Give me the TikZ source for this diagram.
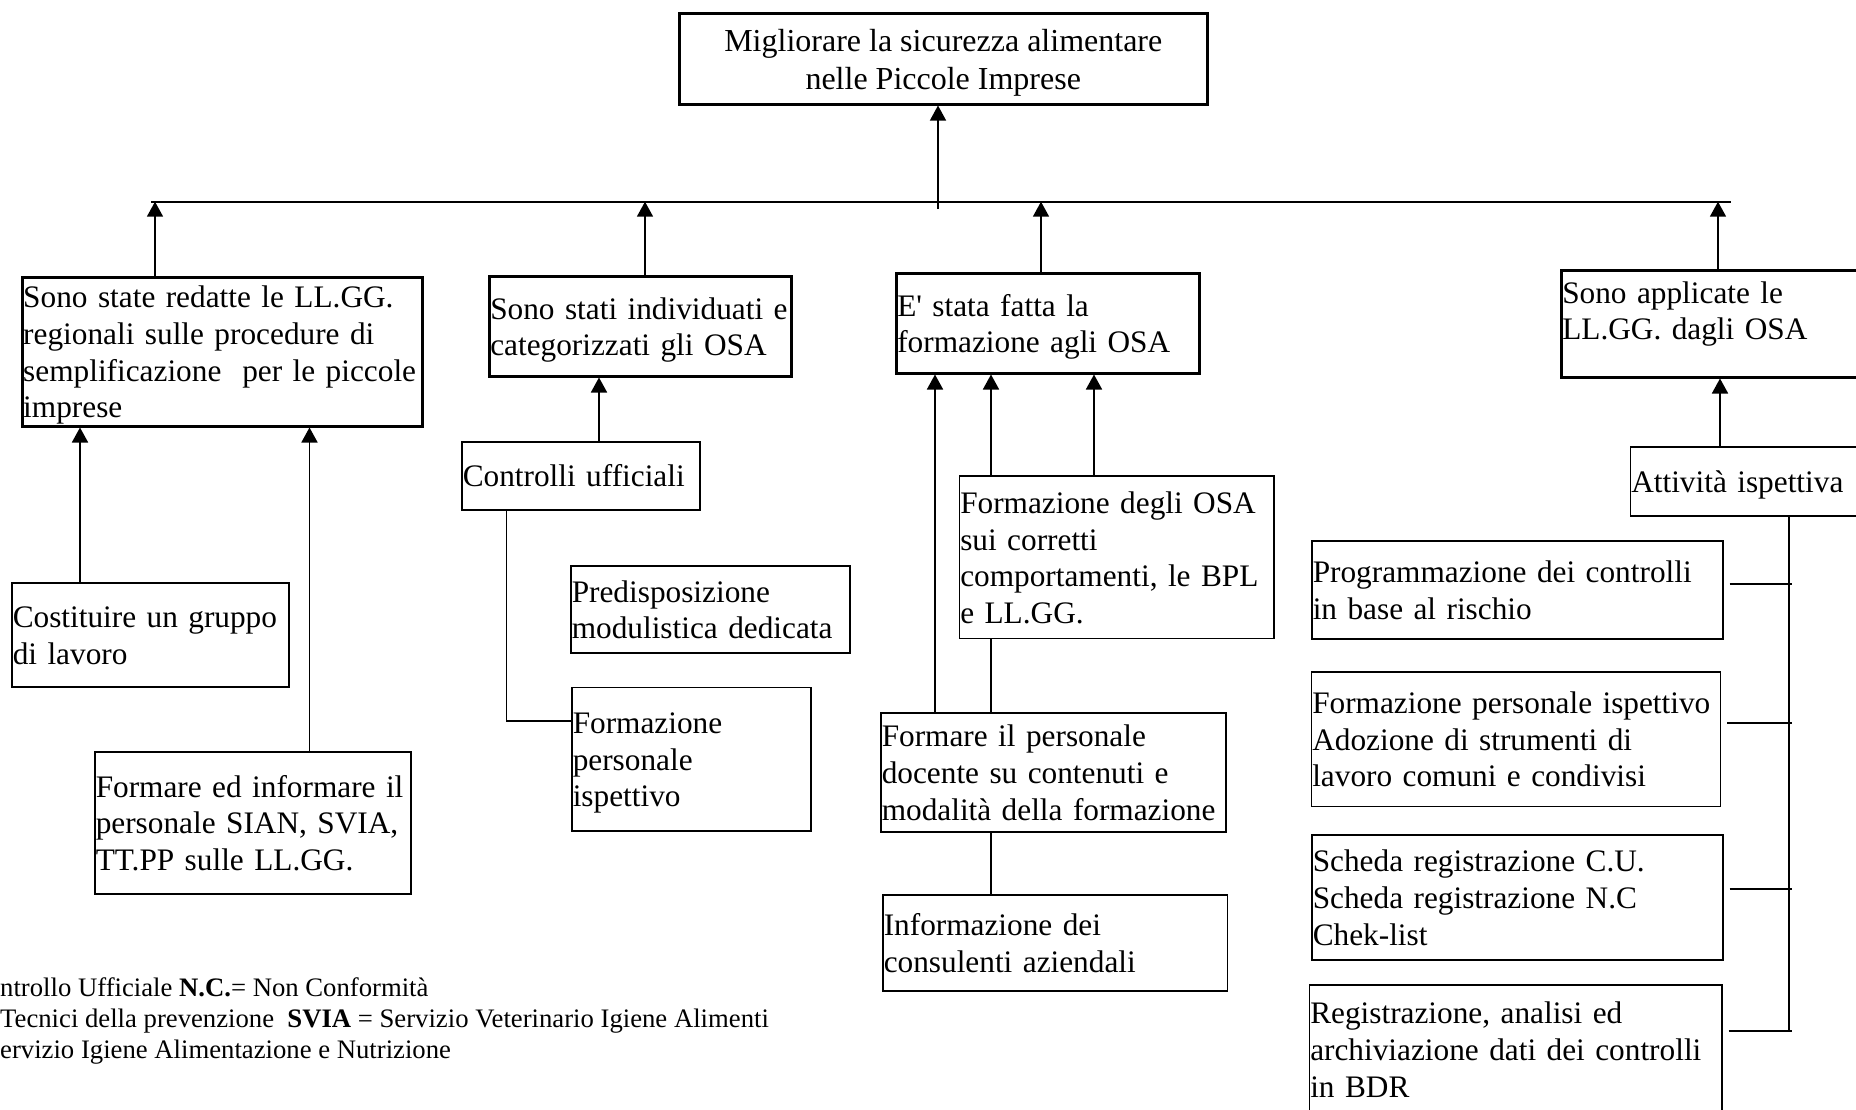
\documentclass[tikz,border=0pt]{standalone}
\usepackage{fontspec}
\setmainfont{Liberation Serif}
\usetikzlibrary{arrows.meta,calc}
\newcommand{\boxlines}[1]{\raisebox{-3.8pt}[\height][\depth]{\begin{tabular}{@{}l@{}}#1\end{tabular}}}
\newcommand{\boxlinesc}[1]{\raisebox{-4.2pt}[\height][\depth]{\begin{tabular}{@{}c@{}}#1\end{tabular}}}
\tikzset{
  box/.style={draw, rectangle, line width=1.5pt, inner xsep=1pt, inner ysep=0pt,
    anchor=north west, align=left, font=\fontsize{31.3}{36.7}\selectfont},
  mainbox/.style={box, line width=2.5pt},
  arr/.style={line width=1.7pt, -{Triangle[length=15pt,width=16pt]}},
  conn/.style={line width=1.6pt},
  busline/.style={line width=2.2pt},
  legend/.style={anchor=north west, inner sep=0pt, align=left, font=\fontsize{26.7}{31.2}\selectfont}
}
\begin{document}
\begin{tikzpicture}[x=1pt,y=-1pt]
\useasboundingbox (0,0) rectangle (1856,1109);
\fill[white] (0,0) rectangle (1856,1109);

% top box
\node[mainbox, anchor=north west, align=center, minimum width=528, minimum height=91, inner xsep=0pt,
  font=\fontsize{32}{38}\selectfont] (top) at (678,12)
  {\boxlinesc{Migliorare la sicurezza alimentare\\nelle Piccole Imprese}};

% first level
\node[mainbox, text width=398, minimum height=149] (b1) at (21,276)
  {\boxlines{Sono state redatte le LL.GG.\\regionali sulle procedure di\\semplificazione\ \ per le piccole\\imprese}};
\node[mainbox, text width=300, minimum height=100] (b2) at (488,275)
  {\boxlines{Sono stati individuati e\\categorizzati gli OSA}};
\node[mainbox, text width=301, minimum height=100] (b3) at (895,272)
  {\boxlines{E\textquotesingle\ stata fatta la\\formazione agli OSA}};
\node[mainbox, text width=308, minimum height=107] (b4) at (1560,269)
  {\boxlines{Sono applicate le\\LL.GG. dagli OSA\\[-10pt]\mbox{}}};

% second level, left
\node[box, text width=275, minimum height=104] (cost) at (11,582)
  {\boxlines{Costituire un gruppo\\di lavoro}};
\node[box, text width=314, minimum height=142] (fin) at (94,751)
  {\boxlines{Formare ed informare il\\personale SIAN, SVIA,\\TT.PP sulle LL.GG.}};
\node[box, text width=236, minimum height=68] (cu) at (461,441)
  {\boxlines{Controlli ufficiali}};
\node[box, text width=277, minimum height=87] (pred) at (570,565)
  {\boxlines{Predisposizione\\modulistica dedicata}};
\node[box, text width=237, minimum height=143.5] (fpi) at (571,686.5)
  {\boxlines{Formazione\\personale\\ispettivo}};

% second level, middle
\node[box, text width=312.5, minimum height=162.5] (fosa) at (958.5,475.4)
  {\boxlines{Formazione degli OSA\\sui corretti\\comportamenti, le BPL\\e LL.GG.}};
\node[box, text width=343, minimum height=119] (fpd) at (880,712)
  {\boxlines{Formare il personale\\docente su contenuti e\\modalità della formazione}};
\node[box, text width=342.5, minimum height=96] (inf) at (882,894)
  {\boxlines{Informazione dei\\consulenti aziendali}};

% second level, right
\node[box, text width=238, minimum height=69] (att) at (1629.5,446)
  {\boxlines{Attività ispettiva}};
\node[box, text width=409, minimum height=98] (prog) at (1311,540)
  {\boxlines{Programmazione dei controlli\\in base al rischio}};
\node[box, text width=407, minimum height=134.5] (fpi2) at (1310.5,671)
  {\boxlines{Formazione personale ispettivo\\Adozione di strumenti di\\lavoro comuni e condivisi}};
\node[box, text width=409, minimum height=125] (sch) at (1311,834)
  {\boxlines{Scheda registrazione C.U.\\Scheda registrazione N.C\\Chek-list}};
\node[box, text width=410.5, minimum height=129] (reg) at (1308.5,984)
  {\boxlines{Registrazione, analisi ed\\archiviazione dati dei controlli\\in BDR}};

% legend
\node[legend] (leg) at (0,974.5)
  {\begin{tabular}{@{}l@{}}ntrollo Ufficiale \textbf{N.C.}= Non Conformità\\
   Tecnici della prevenzione\ \ \textbf{SVIA} = Servizio Veterinario Igiene Alimenti\\
   ervizio Igiene Alimentazione e Nutrizione\end{tabular}};

% bus
\coordinate (busL) at (151,201.7);
\coordinate (busR) at (1731,201.7);
\draw[busline] (busL) -- (busR);
\coordinate (tc) at (938,209);
\draw[arr, line width=1.2pt] (tc) -- (tc |- top.south);

% first level arrows to bus
\coordinate (x1) at (155,0);
\coordinate (x2) at (645,0);
\coordinate (x3) at (1041,0);
\coordinate (x4) at (1718,0);
\draw[arr] (x1 |- b1.north) -- (x1 |- busL);
\draw[arr] (x2 |- b2.north) -- (x2 |- busL);
\draw[arr] (x3 |- b3.north) -- (x3 |- busL);
\draw[arr] (x4 |- b4.north) -- (x4 |- busL);

% left subtree
\coordinate (xc) at (80,0);
\coordinate (xf) at (309.5,0);
\draw[arr] (xc |- cost.north) -- (xc |- b1.south);
\draw[arr] (xf |- fin.north) -- (xf |- b1.south);

\coordinate (xu) at (599,0);
\draw[arr] (xu |- cu.north) -- (xu |- b2.south);
\coordinate (cuT) at (506.5,721);
\draw[conn] (cuT |- cu.south) -- (cuT) -- (cuT -| fpi.west);

% middle subtree
\coordinate (xm1) at (935,0);
\coordinate (xm2) at (991,0);
\coordinate (xm3) at (1094,0);
\draw[arr] (xm1 |- fpd.north) -- (xm1 |- b3.south);
\draw[arr] (xm2 |- fosa.north) -- (xm2 |- b3.south);
\draw[arr] (xm3 |- fosa.north) -- (xm3 |- b3.south);
\draw[conn] (xm2 |- fpd.north) -- (xm2 |- fosa.south);
\draw[conn] (xm2 |- fpd.south) -- (xm2 |- inf.north);

% right subtree
\coordinate (xa) at (1720,0);
\draw[arr] (xa |- att.north) -- (xa |- b4.south);
\coordinate (vend) at (1789,1031);
\draw[conn] (vend |- att.south) -- (vend);
\coordinate (tx) at (1792,0);
\draw[conn] ([xshift=6pt,yshift=5.6pt]prog.east) coordinate (t1) -- (t1 -| tx);
\draw[conn] ([xshift=6pt,yshift=16pt]fpi2.east) coordinate (t2) -- (t2 -| tx);
\draw[conn] ([xshift=6pt,yshift=8.5pt]sch.east) coordinate (t3) -- (t3 -| tx);
\draw[conn] ([xshift=6pt,yshift=18.5pt]reg.east) coordinate (t4) -- (t4 -| tx);
\end{tikzpicture}
\end{document}
